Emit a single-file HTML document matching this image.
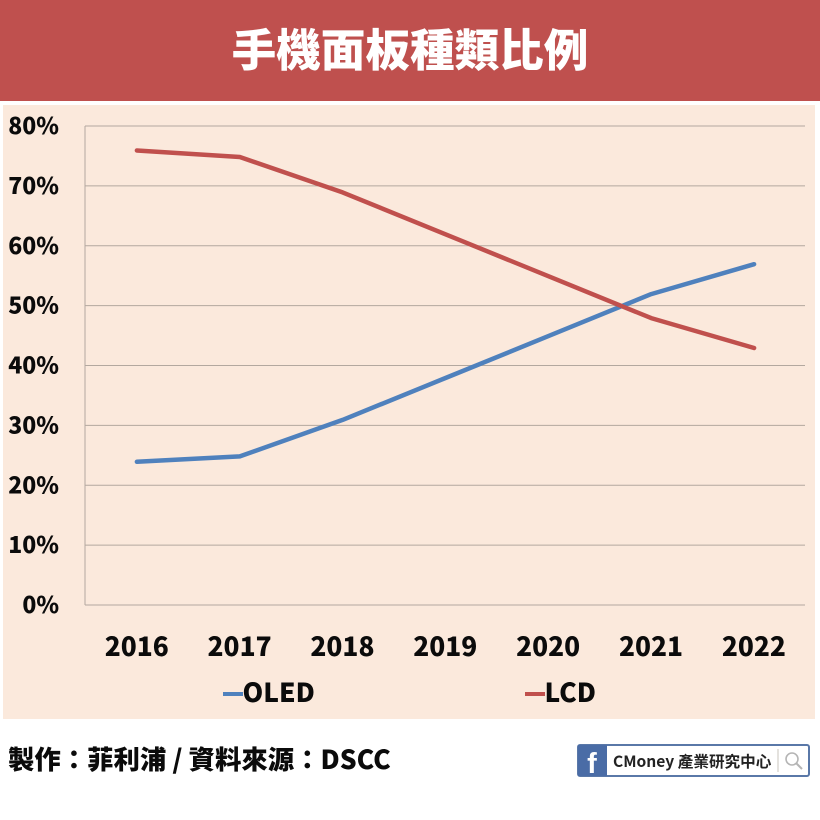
<!DOCTYPE html>
<html lang="zh-Hant">
<head>
<meta charset="utf-8">
<title>手機面板種類比例</title>
<style>
html,body{margin:0;padding:0;background:#fff;}
body{width:820px;height:820px;overflow:hidden;position:relative;}
svg{display:block;position:absolute;left:0;top:0;}
text{font-family:"Noto Sans CJK TC","Liberation Sans",sans-serif;font-weight:900;fill:#0b0b0b;}
</style>
</head>
<body>
<svg id="chart" width="820" height="820" viewBox="0 0 820 820" xmlns="http://www.w3.org/2000/svg">
  <rect x="0" y="0" width="820" height="101" fill="#bf504e"/>
  <text x="410" y="66" text-anchor="middle" font-size="44.6" style="fill:#fff">手機面板種類比例</text>
  <rect x="3" y="105" width="812" height="614" fill="#fbe9dc"/>
  <g id="grid"></g>
  <g id="yticks"></g>
  <g id="xticks"></g>
  <g id="lines" transform="translate(0.5,0.5)"></g>

  <line x1="223" y1="694" x2="243" y2="694" stroke="#4f81bd" stroke-width="4"/>
  <text x="242.5" y="702" font-size="26.4">OLED</text>
  <line x1="525" y1="694" x2="545" y2="694" stroke="#c0504d" stroke-width="4"/>
  <text x="544.5" y="702" font-size="26.4">LCD</text>

  <text x="8" y="769" font-size="26.4">製作：菲利浦 / 資料來源：DSCC</text>

  <g>
    <rect x="578" y="745" width="231" height="31" rx="2" fill="#fff" stroke="#5a78a8" stroke-width="2"/>
    <rect x="578" y="745" width="29" height="31" fill="#4a6ca6"/>
    <text x="592" y="773" text-anchor="middle" font-size="29" style="fill:#fff;font-family:'Liberation Sans',sans-serif;font-weight:700">f</text>
    <text x="613" y="767" font-size="15.6" style="font-weight:700;fill:#222">CMoney 產業研究中心</text>
    <line x1="778" y1="749" x2="778" y2="772" stroke="#c9c4bd" stroke-width="1"/>
    <circle cx="792" cy="759" r="6" fill="none" stroke="#b5b5b5" stroke-width="1.6"/>
    <line x1="796.5" y1="763.5" x2="802" y2="769" stroke="#b5b5b5" stroke-width="2"/>
  </g>
</svg>
<script>
var categories = ["2016","2017","2018","2019","2020","2021","2022"];
var oledValues = [24,24.9,31,38,45,52,57];
var lcdValues = [76,74.9,69,62,55,48,43];
var yTickValues = [0,10,20,30,40,50,60,70,80];

var NS = "http://www.w3.org/2000/svg";
var plotLeft = 85, plotRight = 805, plotTop = 126, plotBottom = 605, yMax = 80;

function xScale(i){ return plotLeft + (i + 0.5) * (plotRight - plotLeft) / categories.length; }
function yScale(v){ return plotBottom - v / yMax * (plotBottom - plotTop); }
function make(tag, attrs, parent){
  var el = document.createElementNS(NS, tag);
  for (var k in attrs) el.setAttribute(k, attrs[k]);
  parent.appendChild(el);
  return el;
}

var gridG = document.getElementById("grid");
var yG = document.getElementById("yticks");
var xG = document.getElementById("xticks");
var linesG = document.getElementById("lines");

yTickValues.forEach(function(v){
  var y = yScale(v);
  var ln = make("line", {x1:plotLeft, y1:y, x2:plotRight, y2:y, stroke:"#b3a89f", "stroke-width":1}, gridG);
  
  
  var t = make("text", {x:59, y:y + 8, "text-anchor":"end", "font-size":23}, yG);
  t.textContent = v + "%";
  
  
});

var yAxis = make("line", {x1:plotLeft, y1:plotTop, x2:plotLeft, y2:plotBottom, stroke:"#b3a89f", "stroke-width":1}, gridG);



categories.forEach(function(c, i){
  var t = make("text", {x:xScale(i) + 0.3, y:656, "text-anchor":"middle", "font-size":26.3}, xG);
  t.textContent = c;
  
  
});

function pointsOf(values){
  return values.map(function(v, i){ return xScale(i).toFixed(1) + "," + yScale(v).toFixed(1); }).join(" ");
}
var oledLine = make("polyline", {points:pointsOf(oledValues), fill:"none", stroke:"#4f81bd", "stroke-width":4.5, "stroke-linecap":"round", "stroke-linejoin":"round"}, linesG);


var lcdLine = make("polyline", {points:pointsOf(lcdValues), fill:"none", stroke:"#c0504d", "stroke-width":4.5, "stroke-linecap":"round", "stroke-linejoin":"round"}, linesG);


</script>
</body>
</html>
